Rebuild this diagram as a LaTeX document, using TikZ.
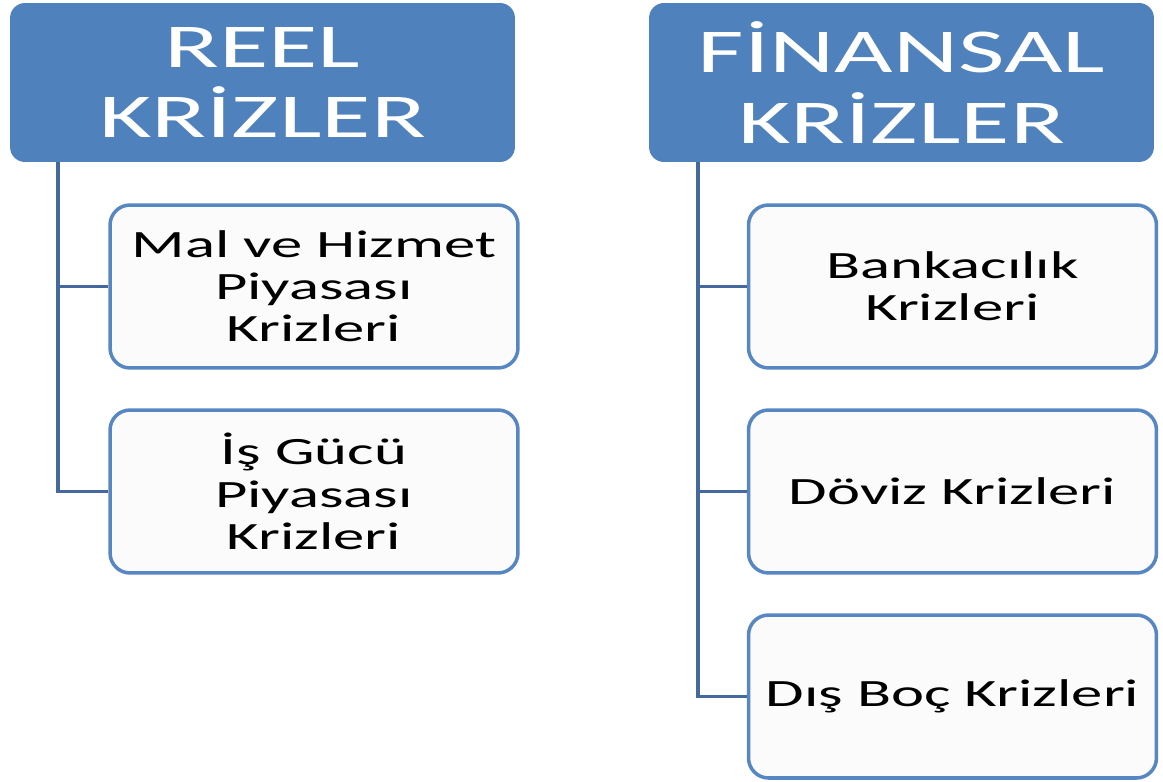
\documentclass[tikz,border=0pt]{standalone}
\usepackage{fontspec}
\setmainfont{Carlito}[FakeStretch=1.62]
\usepackage{tikz}

\definecolor{hdrblue}{HTML}{4F81BD}
\definecolor{boxline}{HTML}{5787C2}
\definecolor{connblue}{HTML}{45699C}
\definecolor{boxfill}{HTML}{FBFBFB}

\tikzset{
  header/.style={draw=none,fill=hdrblue,rounded corners=0.3cm,
    minimum width=10.1cm,minimum height=3.18cm,align=center,text=white,
    font=\fontsize{35.5}{40}\selectfont,inner sep=0pt},
  child/.style={draw=boxline,fill=boxfill,line width=2pt,rounded corners=0.4cm,
    minimum width=8.16cm,minimum height=3.26cm,align=center,text=black,
    font=\fontsize{22}{24}\selectfont,inner sep=0pt},
  conn/.style={draw=connblue,line width=2.1pt}
}

\begin{document}
\begin{tikzpicture}[x=0.02cm,y=-0.02cm]
  \useasboundingbox (0,0) rectangle (1163,781);
  % headers
  \node[header] (reel) at (262.5,82.5) {REEL\\KRİZLER};
  \node[header] (fin) at (901.5,82.5) {FİNANSAL\\KRİZLER};
  % reel krizler
  \node[child] (mal) at (314,286.5) {Mal ve Hizmet\\Piyasası\\Krizleri};
  \node[child] (isgucu) at (314,491.5) {İş Gücü\\Piyasası\\Krizleri};
  % finansal krizler
  \node[child] (banka) at (952.5,286.5) {Bankacılık\\Krizleri};
  \node[child] (doviz) at (952.5,491.5) {Döviz Krizleri};
  \node[child] (dis) at (952.5,696.5) {Dış Boç Krizleri};
  % connectors
  \draw[conn] ([xshift=0.96cm]reel.south west) |- (mal.west);
  \draw[conn] ([xshift=0.96cm]reel.south west) |- (isgucu.west);
  \draw[conn] ([xshift=0.98cm]fin.south west) |- (banka.west);
  \draw[conn] ([xshift=0.98cm]fin.south west) |- (doviz.west);
  \draw[conn] ([xshift=0.98cm]fin.south west) |- (dis.west);
\end{tikzpicture}
\end{document}
